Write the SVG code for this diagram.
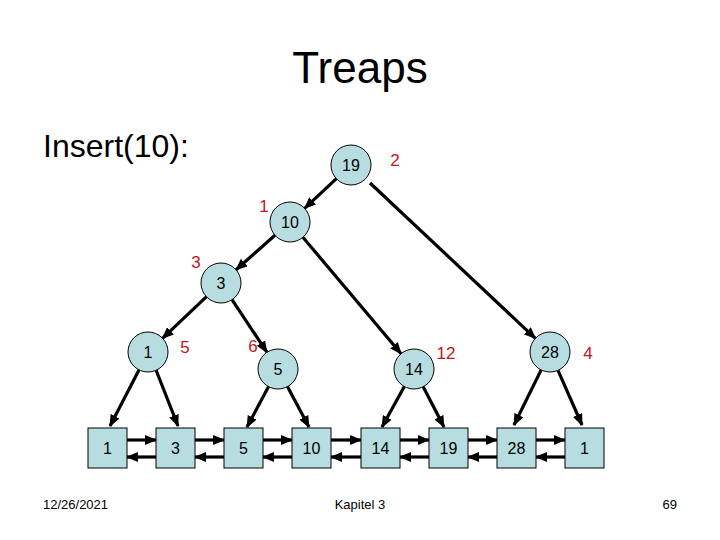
<svg xmlns="http://www.w3.org/2000/svg" width="720" height="540" viewBox="0 0 720 540">
<style>
text{font-family:"Liberation Sans",Arial,sans-serif}
.t{font-size:44px;text-anchor:middle}
.sub{font-size:32px}
.lbl{font-size:16px;text-anchor:middle;dominant-baseline:central;fill:#000}
.pri{font-size:17px;text-anchor:middle;dominant-baseline:central;fill:#c0141c}
.ft{font-size:13px;fill:#000}
.n{fill:#b7dde1;stroke:#000;stroke-width:1}
.e{stroke:#000;stroke-width:3.2;fill:none;marker-end:url(#ah)}
</style>
<defs>
<marker id="ah" viewBox="0 0 12 10" refX="11" refY="5" markerWidth="12" markerHeight="10" markerUnits="userSpaceOnUse" orient="auto">
<path d="M0,0 L12,5 L0,10 z" fill="#000"/>
</marker>
</defs>
<rect width="720" height="540" fill="#fff"/>
<text class="t" x="360" y="83">Treaps</text>
<text class="sub" x="43" y="157">Insert(10):</text>

<g id="connectors">
<line class="e" x1="336.4" y1="178.7" x2="304.6" y2="208.3"/>
<line class="e" x1="370" y1="183" x2="535.4" y2="338.3"/>
<line class="e" x1="275" y1="235.2" x2="236" y2="269.8"/>
<line class="e" x1="302.9" y1="237.3" x2="401.1" y2="353.7"/>
<line class="e" x1="206.5" y1="296.7" x2="162.5" y2="338.3"/>
<line class="e" x1="232" y1="299.7" x2="267" y2="352.3"/>
<line class="e" x1="139" y1="370" x2="110" y2="426"/>
<line class="e" x1="156" y1="370" x2="178" y2="426"/>
<line class="e" x1="268.6" y1="386.6" x2="247" y2="427"/>
<line class="e" x1="287.4" y1="386.6" x2="309" y2="427"/>
<line class="e" x1="404.3" y1="386.5" x2="382" y2="427"/>
<line class="e" x1="423.2" y1="386.8" x2="444" y2="427"/>
<line class="e" x1="541.2" y1="369.9" x2="514" y2="425"/>
<line class="e" x1="558" y1="370.3" x2="582" y2="425"/>
<line class="e" x1="127" y1="440" x2="156" y2="440"/>
<line class="e" x1="156" y1="457" x2="127" y2="457"/>
<line class="e" x1="195" y1="440" x2="224" y2="440"/>
<line class="e" x1="224" y1="457" x2="195" y2="457"/>
<line class="e" x1="263" y1="440" x2="292" y2="440"/>
<line class="e" x1="292" y1="457" x2="263" y2="457"/>
<line class="e" x1="331" y1="440" x2="361" y2="440"/>
<line class="e" x1="361" y1="457" x2="331" y2="457"/>
<line class="e" x1="400" y1="440" x2="429" y2="440"/>
<line class="e" x1="429" y1="457" x2="400" y2="457"/>
<line class="e" x1="468" y1="440" x2="497" y2="440"/>
<line class="e" x1="497" y1="457" x2="468" y2="457"/>
<line class="e" x1="536" y1="440" x2="565" y2="440"/>
<line class="e" x1="565" y1="457" x2="536" y2="457"/>
</g>

<g id="n19"><circle class="n" cx="351" cy="165" r="20"/><text class="lbl" x="351" y="165">19</text><text class="pri" x="395" y="160">2</text></g>
<g id="n10"><circle class="n" cx="290" cy="222" r="20"/><text class="lbl" x="290" y="222">10</text><text class="pri" x="264" y="206">1</text></g>
<g id="n3"><circle class="n" cx="221" cy="283" r="20"/><text class="lbl" x="221" y="283">3</text><text class="pri" x="196" y="262">3</text></g>
<g id="n1"><circle class="n" cx="148" cy="352" r="20"/><text class="lbl" x="148" y="352">1</text><text class="pri" x="185" y="347">5</text></g>
<g id="n5"><circle class="n" cx="278" cy="369" r="20"/><text class="lbl" x="278" y="369">5</text><text class="pri" x="253" y="346">6</text></g>
<g id="n14"><circle class="n" cx="414" cy="369" r="20"/><text class="lbl" x="414" y="369">14</text><text class="pri" x="446" y="353">12</text></g>
<g id="n28"><circle class="n" cx="550" cy="352" r="20"/><text class="lbl" x="550" y="352">28</text><text class="pri" x="588" y="353">4</text></g>

<g id="leaf1"><rect class="n" x="88" y="428" width="39" height="40"/><text class="lbl" x="107.5" y="448">1</text></g>
<g id="leaf3"><rect class="n" x="156" y="428" width="39" height="40"/><text class="lbl" x="175.5" y="448">3</text></g>
<g id="leaf5"><rect class="n" x="224" y="428" width="39" height="40"/><text class="lbl" x="243.5" y="448">5</text></g>
<g id="leaf10"><rect class="n" x="292" y="428" width="39" height="40"/><text class="lbl" x="311.5" y="448">10</text></g>
<g id="leaf14"><rect class="n" x="361" y="428" width="39" height="40"/><text class="lbl" x="380.5" y="448">14</text></g>
<g id="leaf19"><rect class="n" x="429" y="428" width="39" height="40"/><text class="lbl" x="448.5" y="448">19</text></g>
<g id="leaf28"><rect class="n" x="497" y="428" width="39" height="40"/><text class="lbl" x="516.5" y="448">28</text></g>
<g id="leaf1b"><rect class="n" x="565" y="428" width="39" height="40"/><text class="lbl" x="584.5" y="448">1</text></g>

<text class="ft" x="43" y="509">12/26/2021</text>
<text class="ft" x="360" y="509" text-anchor="middle">Kapitel 3</text>
<text class="ft" x="677" y="509" text-anchor="end">69</text>
</svg>
